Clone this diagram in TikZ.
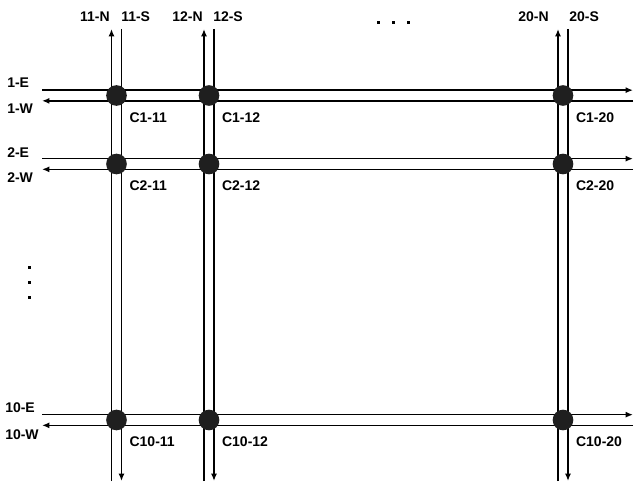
\documentclass[tikz,border=0pt]{standalone}
\usepackage{fontspec}
\setmainfont{Liberation Sans}
\usetikzlibrary{positioning, arrows.meta}

\begin{document}
\begin{tikzpicture}[
    x=0.75pt, y=-0.75pt,
    xing/.style={circle, fill=black!88, inner sep=0pt, minimum size=15.5pt},
    lbl/.style={font=\fontsize{10.5}{12}\selectfont\bfseries, inner sep=0pt},
    tag/.style={lbl, below right=7pt and 4pt of #1},
    arr/.style={-{Latex[length=5.5pt, width=4.5pt]}, line width=1.1pt}
]
    \useasboundingbox (0,0) rectangle (635,485);

    % street ends
    \coordinate (w1) at (42,95.5);  \coordinate (e1) at (633,95.5);
    \coordinate (w2) at (42,164);   \coordinate (e2) at (633,164);
    \coordinate (w10) at (42,420);  \coordinate (e10) at (633,420);
    \coordinate (t11) at (116.5,29); \coordinate (b11) at (116.5,481);
    \coordinate (t12) at (209,29);   \coordinate (b12) at (209,481);
    \coordinate (t20) at (563,29);   \coordinate (b20) at (563,481);

    % east / west lanes
    \draw[arr] ([yshift=4pt]w1) -- ([yshift=4pt]e1);
    \draw[arr] ([yshift=-4pt]e1) -- ([yshift=-4pt]w1);
    \draw[arr] ([yshift=4pt]w2) -- ([yshift=4pt]e2);
    \draw[arr] ([yshift=-4pt]e2) -- ([yshift=-4pt]w2);
    \draw[arr] ([yshift=4pt]w10) -- ([yshift=4pt]e10);
    \draw[arr] ([yshift=-4pt]e10) -- ([yshift=-4pt]w10);

    % north / south lanes
    \draw[arr] ([xshift=-3.75pt]b11) -- ([xshift=-3.75pt]t11);
    \draw[arr] ([xshift=3.75pt]t11) -- ([xshift=3.75pt]b11);
    \draw[arr] ([xshift=-3.75pt]b12) -- ([xshift=-3.75pt]t12);
    \draw[arr] ([xshift=3.75pt]t12) -- ([xshift=3.75pt]b12);
    \draw[arr] ([xshift=-3.75pt]b20) -- ([xshift=-3.75pt]t20);
    \draw[arr] ([xshift=3.75pt]t20) -- ([xshift=3.75pt]b20);

    % crossings
    \node[xing] (c1-11) at (116.5,95.5) {};
    \node[xing] (c1-12) at (209,95.5) {};
    \node[xing] (c1-20) at (563,95.5) {};
    \node[xing] (c2-11) at (116.5,164) {};
    \node[xing] (c2-12) at (209,164) {};
    \node[xing] (c2-20) at (563,164) {};
    \node[xing] (c10-11) at (116.5,420) {};
    \node[xing] (c10-12) at (209,420) {};
    \node[xing] (c10-20) at (563,420) {};

    \node[tag=c1-11] (l1-11) {C1-11};
    \node[tag=c1-12] (l1-12) {C1-12};
    \node[tag=c1-20] (l1-20) {C1-20};
    \node[tag=c2-11] (l2-11) {C2-11};
    \node[tag=c2-12] (l2-12) {C2-12};
    \node[tag=c2-20] (l2-20) {C2-20};
    \node[tag=c10-11] (l10-11) {C10-11};
    \node[tag=c10-12] (l10-12) {C10-12};
    \node[tag=c10-20] (l10-20) {C10-20};

    % lane names
    \node[lbl, anchor=east] (n11) at (110,17) {11-N};
    \node[lbl, anchor=west] (s11) at (121,17) {11-S};
    \node[lbl, anchor=east] (n12) at (203,17) {12-N};
    \node[lbl, anchor=west] (s12) at (213,17) {12-S};
    \node[lbl, anchor=east] (n20) at (549,17) {20-N};
    \node[lbl, anchor=west] (s20) at (569,17) {20-S};
    \node[lbl, anchor=west] (e1l) at (7,83) {1-E};
    \node[lbl, anchor=west] (w1l) at (7,109) {1-W};
    \node[lbl, anchor=west] (e2l) at (7,153) {2-E};
    \node[lbl, anchor=west] (w2l) at (7,178) {2-W};
    \node[lbl, anchor=west] (e10l) at (5,408) {10-E};
    \node[lbl, anchor=west] (w10l) at (5,435) {10-W};

    % more streets
    \fill (376.5,21.5) rectangle ++(3,3);
    \fill (391.5,21.5) rectangle ++(3,3);
    \fill (406.5,21.5) rectangle ++(3,3);
    \fill (27.5,265.5) rectangle ++(3,3);
    \fill (27.5,280.5) rectangle ++(3,3);
    \fill (27.5,295.5) rectangle ++(3,3);
\end{tikzpicture}
\end{document}
